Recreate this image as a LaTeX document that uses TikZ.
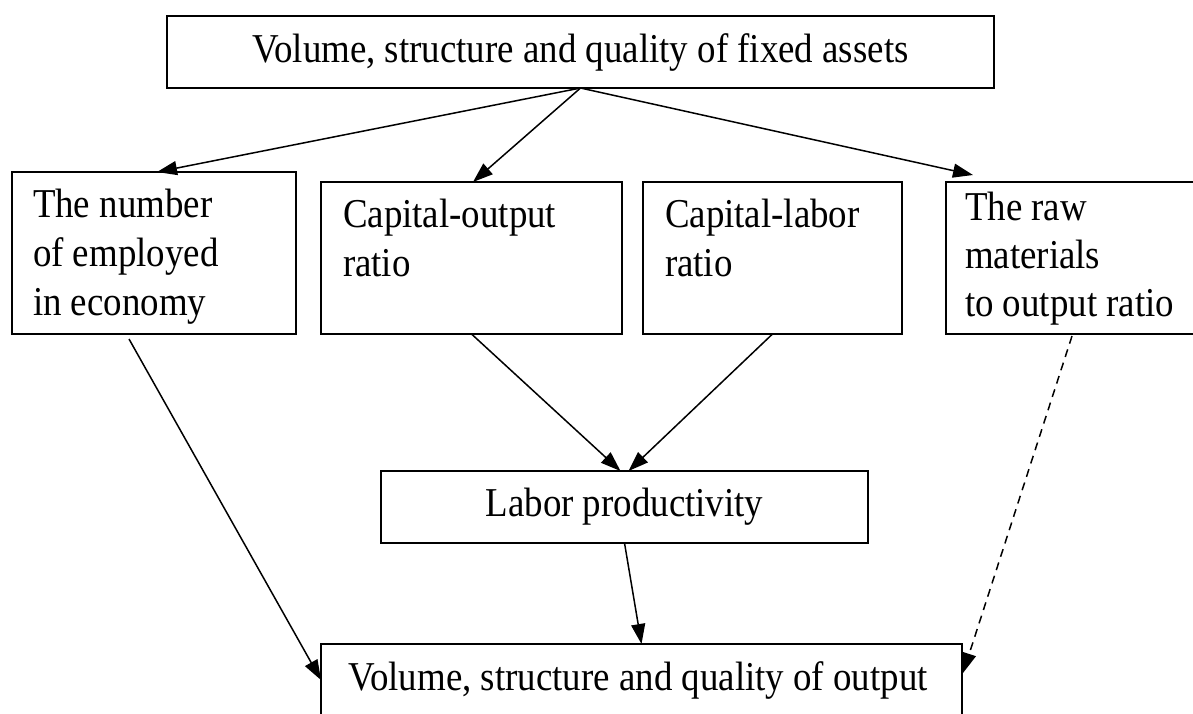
\documentclass[tikz,border=0pt]{standalone}
\usepackage{fontspec}
\setmainfont[FakeStretch=0.9]{Liberation Serif}
\usetikzlibrary{arrows.meta,calc}
\tikzset{
  box/.style={draw, line width=1.8pt, rectangle, inner sep=0pt, outer sep=0pt},
  txt/.style={inner sep=0pt, outer sep=0pt, font=\fontsize{41}{49}\selectfont},
  conn/.style={line width=1.5pt, -{Triangle[length=20pt,width=14pt]}},
  dconn/.style={conn, dash pattern=on 8pt off 6pt}
}
\begin{document}
\begin{tikzpicture}[x=1pt,y=-1pt]
\useasboundingbox (0,0) rectangle (1193,713);
\fill[white] (0,0) rectangle (1193,713);
\clip (0,0) rectangle (1193,713);
% boxes
\node[box, minimum width=827pt, minimum height=72pt] (top) at (580.5,52) {};
\node[box, minimum width=284pt, minimum height=162pt] (emp) at (154,253) {};
\node[box, minimum width=301pt, minimum height=152pt] (co) at (471.5,258) {};
\node[box, minimum width=259pt, minimum height=152pt] (cl) at (772.5,258) {};
\node[box, minimum width=269pt, minimum height=152pt] (raw) at (1080.5,258) {};
\node[box, minimum width=487pt, minimum height=72pt] (lab) at (624.5,507) {};
\node[box, minimum width=641pt, minimum height=96pt] (out) at (641.5,692) {};
% texts
\node[txt, anchor=base] (topt) at (580.5,62) {Volume, structure and quality of fixed assets};
\node[txt, anchor=base west] (empa) at (33,217) {The number};
\node[txt, anchor=base west] (empb) at (33,266) {of employed};
\node[txt, anchor=base west] (empc) at (33,315) {in economy};
\node[txt, anchor=base west] (coa) at (343,227) {Capital-output};
\node[txt, anchor=base west] (cob) at (343,276) {ratio};
\node[txt, anchor=base west] (cla) at (665,227) {Capital-labor};
\node[txt, anchor=base west] (clb) at (665,276) {ratio};
\node[txt, anchor=base west] (rawa) at (965,220) {The raw};
\node[txt, anchor=base west] (rawb) at (965,268) {materials};
\node[txt, anchor=base west] (rawc) at (965,316) {to output ratio};
\node[txt, anchor=base] (labt) at (624.5,516) {Labor productivity};
\node[txt, anchor=base] (outt) at (638,690) {Volume, structure and quality of output};
% connectors
\draw[conn] (top.south) -- ($(emp.north)+(3,0)$);
\draw[conn] (top.south) -- ($(co.north)+(1.5,0)$);
\draw[conn] (top.south) -- ($(raw.north west)+(27,-7)$);
\draw[conn] (co.south) -- ($(lab.north)+(-4,0)$);
\draw[conn] (cl.south) -- ($(lab.north)+(4,0)$);
\draw[conn] (lab.south) -- (out.north);
\draw[conn] ($(emp.south west)+(117,5)$) -- ($(out.north west)+(0,36)$);
\draw[dconn] ($(raw.south west)+(126,2)$) -- ($(out.north east)+(1,29)$);
\end{tikzpicture}
\end{document}
